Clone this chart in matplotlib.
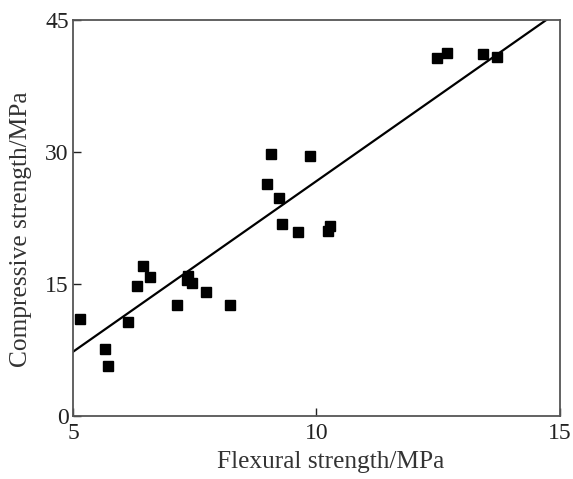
import matplotlib
matplotlib.use("Agg")
import matplotlib.pyplot as plt
import numpy as np

# flexural (MPa) vs compressive (MPa)
flexural = [5.14, 5.66, 5.72, 6.13, 6.31, 6.43, 6.58, 7.13, 7.36, 7.35, 7.44, 7.73,
            8.22, 8.98, 9.07, 9.23, 9.29, 9.62, 9.87, 10.24, 10.28, 12.47, 12.68,
            13.42, 13.70]
compressive = [11.0, 7.6, 5.7, 10.7, 14.8, 17.1, 15.8, 12.6, 15.9, 15.5, 15.1, 14.1,
               12.6, 26.4, 29.8, 24.8, 21.8, 20.9, 29.6, 21.0, 21.6, 40.7, 41.3,
               41.1, 40.8]

# fitted line as drawn
slope = 3.88
intercept = -12.1
fit_x = [5, 14.72]

plt.rcParams['font.family'] = ['Liberation Serif', 'DejaVu Serif']

fig = plt.figure(figsize=(5.73, 4.79), dpi=100)
ax = fig.add_axes([0.1274, 0.1315, 0.8499, 0.8267])

ax.plot(flexural, compressive, 's', color='black', markersize=6.5, zorder=3)
fx = np.array(fit_x)
ax.plot(fx, slope * fx + intercept, color='black', lw=1.6)

ax.set_xlim(5, 15)
ax.set_ylim(0, 45)
ax.set_xticks([5, 10, 15])
ax.set_yticks([0, 15, 30, 45])
ax.tick_params(direction='in', length=6, width=1, labelsize=17, colors='#222222')
ax.tick_params(axis='x', pad=5)
ax.tick_params(axis='y', pad=3)
for s in ax.spines.values():
    s.set_linewidth(1.3)
    s.set_color('#555555')

ax.set_xlabel('Flexural strength/MPa', fontsize=18.3, color='#333333')
ax.set_ylabel('Compressive strength/MPa', fontsize=18.3, color='#333333')
ax.xaxis.set_label_coords(0.53, -0.088)
ax.yaxis.set_label_coords(-0.084, 0.472)

fig.savefig('out.png', dpi=100)
